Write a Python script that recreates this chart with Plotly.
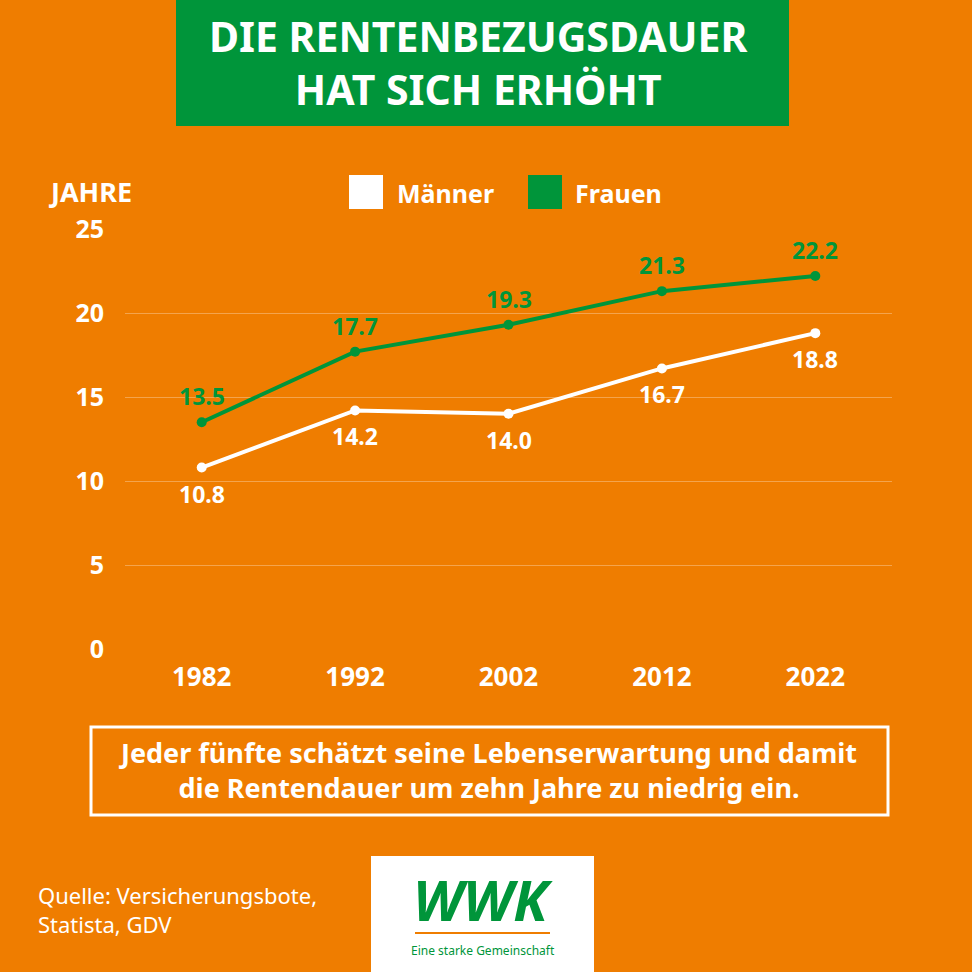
import plotly.graph_objects as go

years = ["1982", "1992", "2002", "2012", "2022"]
maenner = [10.8, 14.2, 14.0, 16.7, 18.8]
frauen = [13.5, 17.7, 19.3, 21.3, 22.2]
y_ticks = [0, 5, 10, 15, 20, 25]

ORANGE = "#EF7D00"
GREEN = "#00953A"
WHITE = "#FFFFFF"
FONT = "Noto Sans"

W = H = 972
L, R, T, B = 125, 80, 229, 323
pw, ph = W - L - R, H - T - B


def px(x):
    return (x - L) / pw


def py(y):
    return (H - B - y) / ph


fig = go.Figure()
fig.add_trace(go.Scatter(
    x=years, y=frauen, mode="lines+markers", name="Frauen",
    line=dict(color=GREEN, width=4), marker=dict(color=GREEN, size=10),
    cliponaxis=False, showlegend=False))
fig.add_trace(go.Scatter(
    x=years, y=maenner, mode="lines+markers", name="Männer",
    line=dict(color=WHITE, width=4), marker=dict(color=WHITE, size=10),
    cliponaxis=False, showlegend=False))

shapes = [
    dict(type="rect", xref="paper", yref="paper", x0=px(176), x1=px(789), y0=py(126), y1=py(0),
         fillcolor=GREEN, line=dict(width=0), layer="below"),
    dict(type="rect", xref="paper", yref="paper", x0=px(349), x1=px(383), y0=py(209), y1=py(175),
         fillcolor=WHITE, line=dict(width=0)),
    dict(type="rect", xref="paper", yref="paper", x0=px(528), x1=px(562), y0=py(209), y1=py(175),
         fillcolor=GREEN, line=dict(width=0)),
    dict(type="rect", xref="paper", yref="paper", x0=px(91), x1=px(888), y0=py(815), y1=py(727),
         fillcolor="rgba(0,0,0,0)", line=dict(color=WHITE, width=3)),
    dict(type="rect", xref="paper", yref="paper", x0=px(371), x1=px(594), y0=py(972), y1=py(856),
         fillcolor=WHITE, line=dict(width=0)),
    dict(type="line", xref="paper", yref="paper", x0=px(415), x1=px(550), y0=py(933), y1=py(933),
         line=dict(color=ORANGE, width=2)),
]


def note(text, x, y, size, color=WHITE, xanchor="left", align="left", family=FONT, **kw):
    d = dict(text=text, x=px(x), y=py(y), xref="paper", yref="paper", xanchor=xanchor,
             yanchor="middle", showarrow=False, align=align,
             font=dict(family=family, size=size, color=color))
    d.update(kw)
    return d


ann = [
    note("<b>DIE RENTENBEZUGSDAUER<br>HAT SICH ERHÖHT</b>", 478, 62, 41, xanchor="center", align="center"),
    note("<b>JAHRE</b>", 47, 191, 27),
    note("<b>Männer</b>", 395, 193, 25),
    note("<b>Frauen</b>", 573, 193, 25),
    note("<b>Jeder fünfte schätzt seine Lebenserwartung und damit<br>die Rentendauer um zehn Jahre zu niedrig ein.</b>",
         488, 770, 27, xanchor="center", align="center"),
    note("Quelle: Versicherungsbote,<br>Statista, GDV", 36, 909, 22),
    note("<b><i>WWK</i></b>", 483, 899, 56, color=GREEN, xanchor="center", align="center"),
    note("Eine starke Gemeinschaft", 483, 950, 12, color=GREEN, xanchor="center", align="center",
         family="Liberation Sans Narrow, Noto Sans"),
]

for i, v in enumerate(frauen):
    ann.append(dict(text=f"<b>{v:.1f}</b>", x=i, y=v, xref="x", yref="y", showarrow=False,
                    yshift=26, font=dict(family=FONT, size=23, color=GREEN)))
for i, v in enumerate(maenner):
    ann.append(dict(text=f"<b>{v:.1f}</b>", x=i, y=v, xref="x", yref="y", showarrow=False,
                    yshift=-26, font=dict(family=FONT, size=23, color=WHITE)))

fig.update_layout(
    width=W, height=H, margin=dict(l=L, r=R, t=T, b=B),
    paper_bgcolor=ORANGE, plot_bgcolor=ORANGE,
    shapes=shapes, annotations=ann, showlegend=False,
    xaxis=dict(type="category", range=[-0.5, 4.5], showgrid=False, zeroline=False, showline=False,
               ticks="", tickfont=dict(family=FONT, size=26, color=WHITE, weight="bold"), ticklabelstandoff=10),
    yaxis=dict(range=[0, 25], tickvals=y_ticks, showgrid=True, gridcolor="rgba(255,255,255,0.3)",
               gridwidth=1, zeroline=False, showline=False, ticks="",
               tickfont=dict(family=FONT, size=25, color=WHITE, weight="bold"), ticklabelstandoff=20),
)

fig.write_html("out.html", config={"displayModeBar": False},
               post_script="document.body.style.margin='0';document.body.style.background='#EF7D00';document.body.style.overflow='hidden';")
